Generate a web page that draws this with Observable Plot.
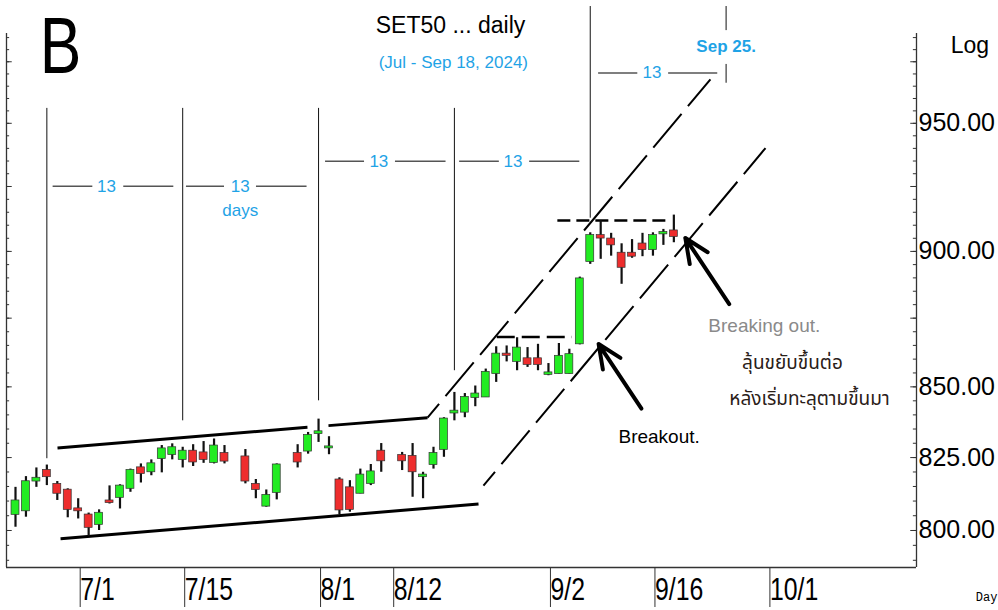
<!DOCTYPE html>
<html><head><meta charset="utf-8">
<script src="https://cdn.jsdelivr.net/npm/d3@7"></script>
<script src="https://cdn.jsdelivr.net/npm/@observablehq/plot@0.6"></script>
<style>body{margin:0;background:#fff} svg{display:block}</style>
</head><body><div id="chart"></div>
<script>
// ---- data (SET50 daily) ----
const tradeDates = ["2024-06-21","2024-06-24","2024-06-25","2024-06-26","2024-06-27","2024-06-28",
"2024-07-01","2024-07-02","2024-07-03","2024-07-04","2024-07-05","2024-07-08","2024-07-09","2024-07-10","2024-07-11","2024-07-12",
"2024-07-15","2024-07-16","2024-07-17","2024-07-18","2024-07-19","2024-07-23","2024-07-24","2024-07-25","2024-07-26",
"2024-07-30","2024-07-31","2024-08-01","2024-08-02","2024-08-05","2024-08-06","2024-08-07","2024-08-08","2024-08-09",
"2024-08-13","2024-08-14","2024-08-15","2024-08-16","2024-08-19","2024-08-20","2024-08-21","2024-08-22","2024-08-23",
"2024-08-26","2024-08-27","2024-08-28","2024-08-29","2024-08-30","2024-09-02","2024-09-03","2024-09-04","2024-09-05","2024-09-06",
"2024-09-09","2024-09-10","2024-09-11","2024-09-12","2024-09-13","2024-09-16","2024-09-17","2024-09-18"];
const openV  = [805.3,806.5,816.7,820.7,815.9,813.9,807.5,805.4,801.9,810.2,811.1,814.2,821.6,819.9,824.5,825.9,
824.2,827.4,826.8,823.1,826.6,825.4,815.9,808.1,812.8,826.6,827.1,833.2,828.2,817.4,814.7,812.5,815.9,827.4,
825.9,825.6,818.2,822.4,827.7,840.5,840.8,846.0,846.2,854.6,862.0,859.0,860.3,860.3,854.3,854.6,854.6,865.4,896.0,
906.2,904.9,899.5,899.5,903.0,900.5,906.5,908.0];
const highV  = [814.7,818.4,821.4,822.4,816.7,814.2,810.8,805.9,807.0,815.2,815.6,821.0,822.8,824.2,829.2,829.8,
828.6,829.5,830.6,831.5,829.2,827.8,817.4,813.8,822.8,829.5,833.8,838.5,832.3,818.0,817.0,821.0,822.6,829.9,
826.8,829.9,819.9,828.6,839.0,848.0,847.6,850.3,856.4,864.5,864.8,867.8,864.2,865.4,858.4,865.7,863.6,890.3,907.1,
911.8,906.9,902.9,904.5,906.9,907.1,908.4,913.9];
const lowV   = [801.1,804.5,814.7,815.3,810.2,804.3,803.9,798.0,800.0,809.0,807.3,813.0,816.2,818.7,819.7,824.2,
821.4,821.9,823.0,822.8,822.8,815.9,810.8,807.9,810.4,821.4,826.2,830.3,826.0,805.4,806.2,812.5,815.3,819.9,
820.5,811.3,810.8,821.0,825.1,837.9,839.0,842.9,846.2,851.6,859.0,855.8,857.0,855.8,854.0,854.6,854.6,865.2,895.1,
897.0,898.2,887.6,897.4,898.0,898.2,902.3,903.3];
const closeV = [810.2,816.8,818.0,818.2,812.5,807.0,806.5,800.9,806.0,809.3,815.3,820.7,819.3,823.0,828.2,828.6,
827.4,823.3,824.2,829.2,823.6,816.7,813.8,812.1,822.6,823.3,832.9,834.2,828.9,806.8,807.0,819.1,820.2,823.7,
823.7,819.9,819.1,826.6,838.7,841.5,846.4,847.6,855.4,862.0,861.2,864.2,857.9,857.9,855.2,861.2,861.8,889.8,906.2,
904.9,902.3,893.8,898.0,900.5,906.2,907.4,905.5];

const tickDates  = ["2024-07-01","2024-07-15","2024-08-01","2024-08-12","2024-09-02","2024-09-16","2024-10-01"];
const tickLabels = ["7/1","7/15","8/1","8/12","9/2","9/16","10/1"];
const yTickValues = [800, 825, 850, 900, 950];

// annotations, x in weekday slots (0 = 2024-06-21), y in index points
const solidLines  = [[4.02,828.3,27.94,835.6],[29.95,836.2,39.43,839.0],[4.31,797.2,44.31,809.0]];
const dashedDiag  = [[39.43,839.0,66.5,967.8],[44.78,815.3,71.77,940.1]];
const flatDashed  = [[46.1,53.3,868.1],[51.9,62.4,911.8]];
const cycleLines  = [[3,956,824.6],[16,956,837.9],[29,956,845.0],[42,956,855.8],[55,998,912.7],[68,998,987.9],[68,973.9,966.2]];
const cycleSpans  = [[3.6,7.4,10.36,15.15,8.7,925.1],[16.36,20.0,23.06,27.9,21.5,925.1],[29.67,33.4,36.36,41.2,34.77,934.9],
                     [42.5,46.3,49.2,54.0,47.6,934.9],[55.8,59.55,62.5,67.2,60.9,970.4]];
const cycleLabel  = "13";
const arrows      = [[59.9,842.2,55.8,865.5],[68.3,880.2,64.1,905.1]];

// ---- derived ----
const start = new Date("2024-06-21T00:00:00Z");
function slotOf(s){const d=new Date(s+"T00:00:00Z");let n=0;for(let t=new Date(start);t<d;t.setUTCDate(t.getUTCDate()+1)){const w=t.getUTCDay();if(w!==0&&w!==6)n++;}return n;}
const candles = tradeDates.map((d,i)=>({slot:slotOf(d),open:openV[i],high:highV[i],low:lowV[i],close:closeV[i]}));
const tickSlots = tickDates.map(slotOf);
const xLo=-0.861, xHi=86.22, yLo=787.6, yHi=986.7;
const minor = d3.range(790, 990, 5), major = d3.range(800, 990, 25);
const segs = [];
cycleSpans.forEach(s=>{segs.push({x1:s[0],x2:s[1],y:s[5]});segs.push({x1:s[2],x2:s[3],y:s[5]});});
const blue = "#1fa3e6", sans = "Liberation Sans, Arial, sans-serif";
const thai = "Tahoma, 'Noto Sans Thai', 'Loma', 'Garuda', sans-serif";

const plot = Plot.plot({
  width: 998, height: 610,
  marginTop: 33, marginBottom: 43, marginLeft: 6, marginRight: 82,
  x: {domain: [xLo, xHi], axis: null},
  y: {type: "log", domain: [yLo, yHi], axis: null},
  style: {background: "#fff", overflow: "visible"},
  marks: [
    // frame
    Plot.ruleX([xLo, xHi], {stroke: "#333", strokeWidth: 1.3}),
    Plot.ruleY([yLo], {x1: xLo, x2: xHi, stroke: "#333", strokeWidth: 1.3}),
    Plot.ruleY(minor, {x1: xLo, x2: xLo + 0.3, stroke: "#333"}),
    Plot.ruleY(major, {x1: xLo, x2: xLo + 0.55, stroke: "#333"}),
    Plot.ruleY(minor, {x1: xHi - 0.3, x2: xHi, stroke: "#333"}),
    Plot.ruleY(major, {x1: xHi - 0.55, x2: xHi, stroke: "#333"}),
    Plot.axisX({anchor: "bottom", ticks: tickSlots, tickFormat: d => tickLabels[tickSlots.indexOf(d)],
      tickSize: 40, tickPadding: -30, textAnchor: "start", dx: 2, fontSize: 31, fontFamily: sans, stroke: "#333", fill: "#000"}),
    Plot.axisY({anchor: "right", ticks: yTickValues, tickFormat: d => d.toFixed(2), tickSize: 0, tickPadding: 2,
      fontSize: 25, fontFamily: sans, fill: "#000"}),
    // cycle markers
    Plot.ruleX(cycleLines, {x: d => d[0], y1: d => d[1], y2: d => d[2], stroke: "#111", strokeWidth: 1}),
    Plot.ruleY(segs, {x1: "x1", x2: "x2", y: "y", stroke: "#555", strokeWidth: 1.5}),
    Plot.text(cycleSpans, {x: d => d[4], y: d => d[5], text: () => cycleLabel, fill: blue, fontSize: 17, fontFamily: sans}),
    Plot.text(["days"], {x: 21.5, y: 915.8, text: d => d, fill: blue, fontSize: 17, fontFamily: sans}),
    Plot.text(["Sep 25."], {x: 68, y: 981.2, text: d => d, fill: blue, fontSize: 17, fontWeight: "bold", fontFamily: sans}),
    // channels
    Plot.link(solidLines, {x1: d => d[0], y1: d => d[1], x2: d => d[2], y2: d => d[3], stroke: "#000", strokeWidth: 3}),
    Plot.link(dashedDiag, {x1: d => d[0], y1: d => d[1], x2: d => d[2], y2: d => d[3], stroke: "#000", strokeWidth: 2, strokeDasharray: "44,10", strokeDashoffset: 26}),
    Plot.ruleY(flatDashed.slice(0,1), {x1: d => d[0], x2: d => d[1], y: d => d[2], stroke: "#000", strokeWidth: 2.5, strokeDasharray: "18,7"}),
    Plot.ruleY(flatDashed.slice(1), {x1: d => d[0], x2: d => d[1], y: d => d[2], stroke: "#000", strokeWidth: 2.5, strokeDasharray: "13,6"}),
    // candles
    Plot.ruleX(candles, {x: "slot", y1: "low", y2: "high", stroke: "#111", strokeWidth: 2.2}),
    Plot.rect(candles, {x1: d => d.slot - 0.38, x2: d => d.slot + 0.38, y1: "open", y2: "close",
      fill: d => d.close >= d.open ? "#22ec22" : "#ee2d2d", stroke: "#333", strokeWidth: 0.7}),
    // arrows
    Plot.arrow(arrows, {x1: d => d[0], y1: d => d[1], x2: d => d[2], y2: d => d[3], stroke: "#000", strokeWidth: 4, headLength: 12, headAngle: 48}),
    // texts
    Plot.text(["Breakout."], {x: 57.7, y: 832.3, text: d => d, textAnchor: "start", fontSize: 19, fontFamily: sans, fill: "#000"}),
    Plot.text(["Breaking out."], {x: 66.3, y: 872.1, text: d => d, textAnchor: "start", fontSize: 19, fontFamily: sans, fill: "#8a8a8a"}),
    Plot.text(["ลุ้นขยับขึ้นต่อ"], {x: 74.35, y: 858.7, text: d => d, fontSize: 19, fontFamily: thai, fill: "#2a2018"}),
    Plot.text(["หลังเริ่มทะลุตามขึ้นมา"], {x: 75.98, y: 845.7, text: d => d, fontSize: 19, fontFamily: thai, fill: "#2a2018"}),
    Plot.text(["SET50 ... daily"], {x: 41.63, y: 990.0, text: d => d, fontSize: 23, fontFamily: sans, fill: "#000"}),
    Plot.text(["(Jul - Sep 18, 2024)"], {x: 41.9, y: 974.7, text: d => d, fontSize: 17, fontFamily: sans, fill: blue}),
    Plot.text(["B"], {x: 4.3, y: 981.0, text: d => d, fontSize: 80, fontFamily: sans, fill: "#000"}),
    Plot.text(["Log"], {x: 89.5, y: 981.8, text: d => d, textAnchor: "start", fontSize: 23, fontFamily: sans, fill: "#000"}),
    Plot.text(["Day"], {x: 91.9, y: 777.7, text: d => d, textAnchor: "start", fontSize: 12, fontFamily: "Liberation Mono, monospace", fill: "#000"})
  ]
});
document.getElementById("chart").append(plot);
// condensed look of the date labels and the panel letter
function squeezeNodes(nodes, f){ nodes.each(function(){ const w = this.getComputedTextLength(); if (w > 0){ this.setAttribute("textLength", (w*f).toFixed(1)); this.setAttribute("lengthAdjust", "spacingAndGlyphs"); } }); }
squeezeNodes(d3.select(plot).selectAll("g[aria-label='x-axis tick label'] text"), 0.8);
squeezeNodes(d3.select(plot).selectAll("text").filter(function(){ return this.textContent === "B"; }), 0.78);
</script>
</body></html>
